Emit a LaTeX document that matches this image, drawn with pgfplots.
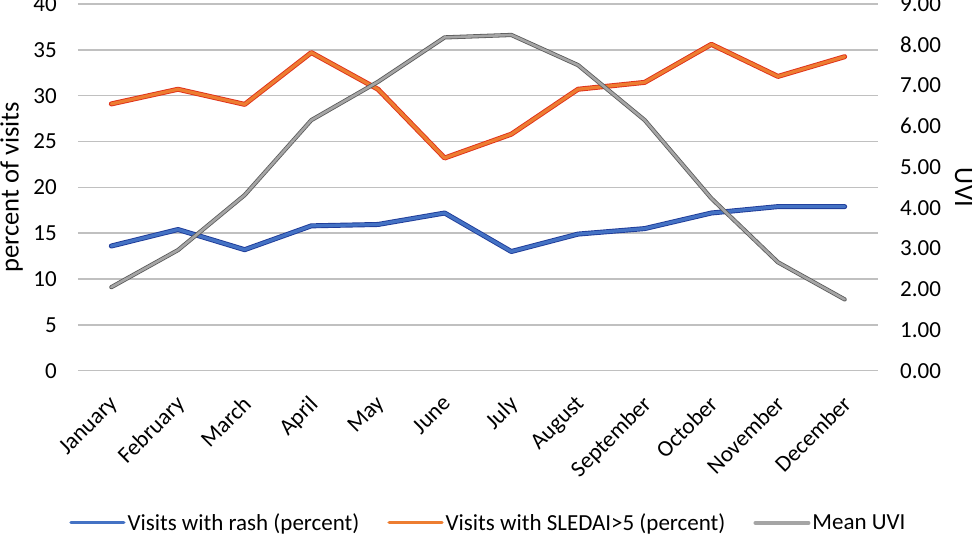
\documentclass[border=0pt]{standalone}
\usepackage{pgfplots}
\pgfplotsset{compat=1.18}
\usepackage{fontspec}
\setmainfont{Carlito}
\definecolor{cblue}{HTML}{4472C4}
\definecolor{cblueE}{HTML}{1F3C99}
\definecolor{corange}{HTML}{ED7D31}
\definecolor{corangeE}{HTML}{E0301A}
\definecolor{cgray}{HTML}{A5A5A5}
\definecolor{cgrayE}{HTML}{5A5A5A}
\definecolor{cgrid}{HTML}{C0C0C0}
\pgfplotstableread{
x rash sledai uvi
0 13.6 29.1 2.05
1 15.4 30.7 2.96
2 13.2 29.05 4.31
3 15.8 34.7 6.15
4 15.95 30.7 7.09
5 17.2 23.2 8.18
6 13.0 25.8 8.24
7 14.9 30.7 7.50
8 15.5 31.45 6.15
9 17.2 35.6 4.23
10 17.9 32.1 2.66
11 17.9 34.25 1.75
}\data
\begin{document}
\begin{tikzpicture}
\pgfplotsset{
  common/.style={
    scale only axis, width=800pt, height=366.7pt,
    xmin=-0.5, xmax=11.5,
    axis line style={draw=none},
    major tick length=0pt,
    tick label style={font=\fontsize{23}{27}\selectfont},
    /pgf/number format/assume math mode=true,
  }
}
\begin{axis}[common, name=ax1,
  ymin=0, ymax=40, ytick={0,5,...,40},
  ymajorgrids, grid style={cgrid, line width=1.6pt},
  xtick=data,
  xticklabels={January,February,March,April,May,June,July,August,September,October,November,December},
  xticklabel style={rotate=45, anchor=north east, inner sep=2pt, xshift=-17pt, yshift=-12pt},
  yticklabel style={inner sep=0pt, xshift=-21pt},
  ylabel={percent of visits},
  ylabel style={font=\fontsize{26.5}{30}\selectfont, at={(axis description cs:-0.083,0.5)}, anchor=center, inner sep=0pt},
  legend columns=3,
  legend style={draw=none, fill=none, at={(rel axis cs:0.513,-0.415)}, anchor=center,
    font=\fontsize{23}{27}\selectfont, /tikz/every even column/.append style={column sep=26pt}, inner sep=0pt},
  legend image code/.code={\draw[#1] (0pt,0pt) -- (53pt,0pt);},
]
\addplot[cblueE, line width=5pt, line join=round, line cap=round, forget plot] table[x=x,y=rash]{\data};
\addplot[cblue, line width=3.2pt, line join=round, line cap=round] table[x=x,y=rash]{\data};
\addlegendentry{Visits with rash (percent)}
\addplot[corangeE, line width=5pt, line join=round, line cap=round, forget plot] table[x=x,y=sledai]{\data};
\addplot[corange, line width=3.2pt, line join=round, line cap=round] table[x=x,y=sledai]{\data};
\addlegendentry{Visits with SLEDAI>5 (percent)}
\addlegendimage{cgray, line width=4pt, line cap=round}
\addlegendentry{Mean UVI}
\end{axis}
\begin{axis}[common,
  ymin=0, ymax=9, ytick={0,1,...,9},
  axis y line*=right, axis x line=none,
  xtick=\empty,
  yticklabel style={/pgf/number format/.cd, fixed, fixed zerofill, precision=2, /tikz/.cd, inner sep=0pt, anchor=west, xshift=22pt},
  ylabel={UVI},
  ylabel style={font=\fontsize{26.5}{30}\selectfont, at={(axis description cs:1.107,0.5)}, anchor=center, rotate=180, inner sep=0pt},
]
\addplot[cgrayE, line width=4.2pt, line join=round, line cap=round] table[x=x,y=uvi]{\data};
\addplot[cgray, line width=2.6pt, line join=round, line cap=round] table[x=x,y=uvi]{\data};
\end{axis}
\pgfresetboundingbox
\path[use as bounding box] ([shift={(-78pt,-166.3pt)}]ax1.south west) rectangle ++(975pt,537pt);
\end{tikzpicture}
\end{document}
